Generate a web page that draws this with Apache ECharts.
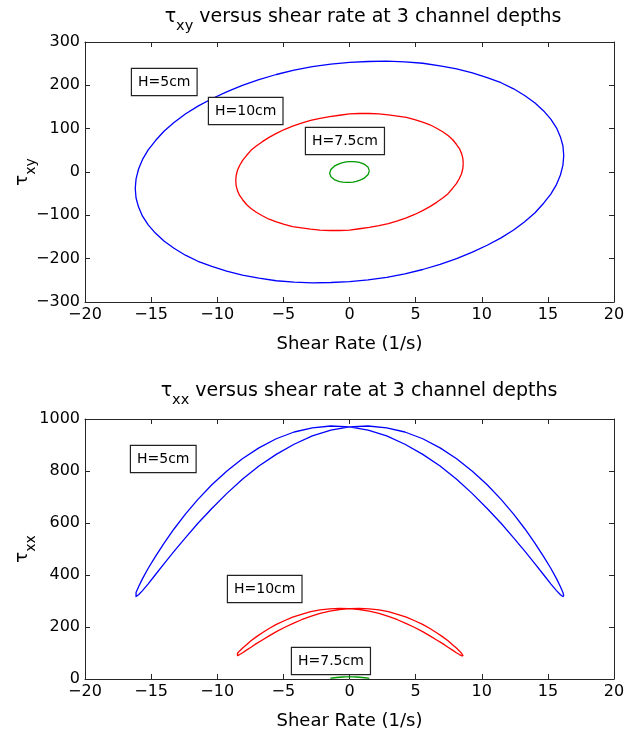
<!DOCTYPE html>
<html>
<head>
<meta charset="utf-8">
<script src="https://cdn.jsdelivr.net/npm/echarts@6/dist/echarts.min.js"></script>
<style>html,body{margin:0;padding:0;background:#fff}#c{width:638px;height:738px}</style>
</head>
<body>
<div id="c"></div>
<script>
// ---- data (each loop traced point by point, closed) ----
const shearBlue = [16.20,16.14,15.95,15.65,15.22,14.68,14.03,13.27,12.41,11.46,10.41,9.29,8.10,6.85,5.54,4.19,2.81,1.41,0,-1.41,-2.81,-4.19,-5.54,-6.85,-8.10,-9.29,-10.41,-11.46,-12.41,-13.27,-14.03,-14.68,-15.22,-15.65,-15.95,-16.14,
  -16.20,-16.14,-15.95,-15.65,-15.22,-14.68,-14.03,-13.27,-12.41,-11.46,-10.41,-9.29,-8.10,-6.85,-5.54,-4.19,-2.81,-1.41,0,1.41,2.81,4.19,5.54,6.85,8.10,9.29,10.41,11.46,12.41,13.27,14.03,14.68,15.22,15.65,15.95,16.14,16.20];
const tauXYBlue = [38,60,81,102,122,141,159,176,192,206,218,229,238,245,251,254,256,255,253,249,243,235,225,213,200,185,169,152,134,114,94,72,51,29,7,-16,
  -38,-60,-81,-102,-122,-141,-159,-176,-192,-206,-218,-229,-238,-245,-251,-254,-256,-255,-253,-249,-243,-235,-225,-213,-200,-185,-169,-152,-134,-114,-94,-72,-51,-29,-7,16,38];
const tauXXBlue = [320,333,355,386,426,471,522,577,634,691,747,799,847,889,924,950,966,973,970,957,935,903,864,819,768,713,656,599,543,491,443,401,366,340,324,317,
  320,333,355,386,426,471,522,577,634,691,747,799,847,889,924,950,966,973,970,957,935,903,864,819,768,713,656,599,543,491,443,401,366,340,324,317,320];

const shearRed = [8.60,8.57,8.47,8.31,8.08,7.79,7.45,7.05,6.59,6.08,5.53,4.93,4.30,3.63,2.94,2.23,1.49,0.75,0,-0.75,-1.49,-2.23,-2.94,-3.63,-4.30,-4.93,-5.53,-6.08,-6.59,-7.05,-7.45,-7.79,-8.08,-8.31,-8.47,-8.57,
  -8.60,-8.57,-8.47,-8.31,-8.08,-7.79,-7.45,-7.05,-6.59,-6.08,-5.53,-4.93,-4.30,-3.63,-2.94,-2.23,-1.49,-0.75,0,0.75,1.49,2.23,2.94,3.63,4.30,4.93,5.53,6.08,6.59,7.05,7.45,7.79,8.08,8.31,8.47,8.57,8.60];
const tauXYRed = [20,32,43,54,64,75,84,93,101,109,115,121,126,129,132,134,135,135,134,131,128,124,119,113,106,98,89,80,70,60,50,38,27,15,4,-8,
  -20,-32,-43,-54,-64,-75,-84,-93,-101,-109,-115,-121,-126,-129,-132,-134,-135,-135,-134,-131,-128,-124,-119,-113,-106,-98,-89,-80,-70,-60,-50,-38,-27,-15,-4,8,20];
const tauXXRed = [89,93,99,108,119,132,147,162,178,194,210,224,238,249,259,266,270,272,271,267,261,252,241,228,213,198,182,166,150,136,122,111,101,94,90,88,
  89,93,99,108,119,132,147,162,178,194,210,224,238,249,259,266,270,272,271,267,261,252,241,228,213,198,182,166,150,136,122,111,101,94,90,88,89];

const shearGreen = [1.5,1.48,1.41,1.3,1.15,0.96,0.75,0.51,0.26,0,-0.26,-0.51,-0.75,-0.96,-1.15,-1.3,-1.41,-1.48,-1.5,-1.48,-1.41,-1.3,-1.15,-0.96,-0.75,-0.51,-0.26,0,0.26,0.51,0.75,0.96,1.15,1.3,1.41,1.48,1.5];
const tauXYGreen = [2.7,6.8,10.7,14.3,17.5,20.1,22.1,23.5,24.1,24,23.2,21.6,19.4,16.6,13.4,9.7,5.7,1.5,-2.7,-6.8,-10.7,-14.3,-17.5,-20.1,-22.1,-23.5,-24.1,-24,-23.2,-21.6,-19.4,-16.6,-13.4,-9.7,-5.7,-1.5,2.7];
const tauXXGreen = [2.7,3.0,3.6,4.5,5.4,6.4,7.3,7.9,8.3,8.3,8.0,7.4,6.6,5.6,4.6,3.8,3.1,2.7,2.7,3.0,3.6,4.5,5.4,6.4,7.3,7.9,8.3,8.3,8.0,7.4,6.6,5.6,4.6,3.8,3.1,2.7,2.7];

const labelTexts = ['H=5cm', 'H=10cm', 'H=7.5cm'];
const titleRest = ' versus shear rate at 3 channel depths';
const xAxisTitle = 'Shear Rate (1/s)';
const shearRange = [-20, 20, 5];
const tauXYRange = [-300, 300, 100];
const tauXXRange = [0, 1000, 200];

// ---- chart ----
const FONT = 'DejaVu Sans';
const AX = '#262626';
const chart = echarts.init(document.getElementById('c'), null, {renderer: 'canvas'});
const minus = v => String(v).replace('-', '\u2212');
const pairs = (xs, ys) => xs.map((x, i) => [x, ys[i]]);

function xAxes(g) {
  const base = {gridIndex: g, type: 'value', min: shearRange[0], max: shearRange[1], interval: shearRange[2],
    splitLine: {show: false}, axisLine: {show: true, onZero: false, lineStyle: {color: AX, width: 1}},
    axisTick: {show: true, inside: true, length: 5, lineStyle: {color: AX}}};
  return [
    Object.assign({}, base, {position: 'bottom', name: xAxisTitle, nameLocation: 'middle', nameGap: 33,
      nameTextStyle: {fontFamily: FONT, fontSize: 18, color: '#000'},
      axisLabel: {show: true, margin: 5, fontFamily: FONT, fontSize: 16, color: '#000', formatter: minus}}),
    Object.assign({}, base, {position: 'top', axisLabel: {show: false}})
  ];
}
function yAxes(g, r) {
  const base = {gridIndex: g, type: 'value', min: r[0], max: r[1], interval: r[2],
    splitLine: {show: false}, axisLine: {show: true, onZero: false, lineStyle: {color: AX, width: 1}},
    axisTick: {show: true, inside: true, length: 5, lineStyle: {color: AX}}};
  return [
    Object.assign({}, base, {position: 'left',
      axisLabel: {show: true, margin: 5, fontFamily: FONT, fontSize: 16, color: '#000', formatter: minus}}),
    Object.assign({}, base, {position: 'right', axisLabel: {show: false}})
  ];
}
function line(xi, yi, data, color) {
  return {type: 'line', xAxisIndex: xi, yAxisIndex: yi, data: data, symbol: 'none', showSymbol: false,
    lineStyle: {color: color, width: 1.3, join: 'round'}, itemStyle: {color: color}, smooth: false,
    sampling: null, animation: false, clip: true, z: 3};
}
function richTitle(x, y, sub, rest) {
  return {type: 'text', x: x, y: y, z: 50,
    style: {text: '{t|\u03c4}{s|' + sub + '}{n|' + rest + '}',
      align: 'center', verticalAlign: 'middle', textAlign: 'center', textVerticalAlign: 'middle', fill: '#000',
      rich: {t: {fontFamily: FONT, fontSize: 19, fill: '#000'},
             s: {fontFamily: FONT, fontSize: 14.5, fill: '#000', padding: [18, 0, 0, 0]},
             n: {fontFamily: FONT, fontSize: 19, fill: '#000'}}}};
}
function yName(x, y, sub) {
  return {type: 'text', x: x, y: y, rotation: Math.PI / 2, z: 50,
    style: {text: '{t|\u03c4}{s|' + sub + '}',
      align: 'center', verticalAlign: 'middle', textAlign: 'center', textVerticalAlign: 'middle', fill: '#000',
      rich: {t: {fontFamily: FONT, fontSize: 18, fill: '#000'},
             s: {fontFamily: FONT, fontSize: 14, fill: '#000', padding: [18, 0, 0, 0]}}}};
}
function box(x, y, t) {
  return {type: 'text', x: x, y: y, z: 100,
    style: {text: t, fontFamily: FONT, fontSize: 14, fill: '#000', align: 'left', verticalAlign: 'top',
      textAlign: 'left', textVerticalAlign: 'top',
      backgroundColor: '#fff', borderColor: '#222', borderWidth: 1.2, padding: [6, 6, 6, 6]}};
}

const option = {
  animation: false,
  backgroundColor: '#fff',
  grid: [
    {left: 85, right: 24, top: 42, height: 260},
    {left: 85, right: 24, top: 419, height: 260}
  ],
  xAxis: xAxes(0).concat(xAxes(1)),
  yAxis: yAxes(0, tauXYRange).concat(yAxes(1, tauXXRange)),
  series: [
    line(0, 0, pairs(shearBlue, tauXYBlue), '#0000ff'),
    line(0, 0, pairs(shearRed, tauXYRed), '#ff0000'),
    line(0, 0, pairs(shearGreen, tauXYGreen), '#009900'),
    line(2, 2, pairs(shearBlue, tauXXBlue), '#0000ff'),
    line(2, 2, pairs(shearRed, tauXXRed), '#ff0000'),
    line(2, 2, pairs(shearGreen, tauXXGreen), '#009900')
  ],
  graphic: [
    richTitle(363, 17, 'xy', titleRest),
    richTitle(359, 391, 'xx', titleRest),
    yName(22, 172, 'xy'),
    yName(22, 549, 'xx'),
    box(132, 69, labelTexts[0]),
    box(209, 98, labelTexts[1]),
    box(306, 128, labelTexts[2]),
    box(131, 446, labelTexts[0]),
    box(228, 576, labelTexts[1]),
    box(292, 648, labelTexts[2])
  ]
};
chart.setOption(option);
</script>
</body>
</html>
